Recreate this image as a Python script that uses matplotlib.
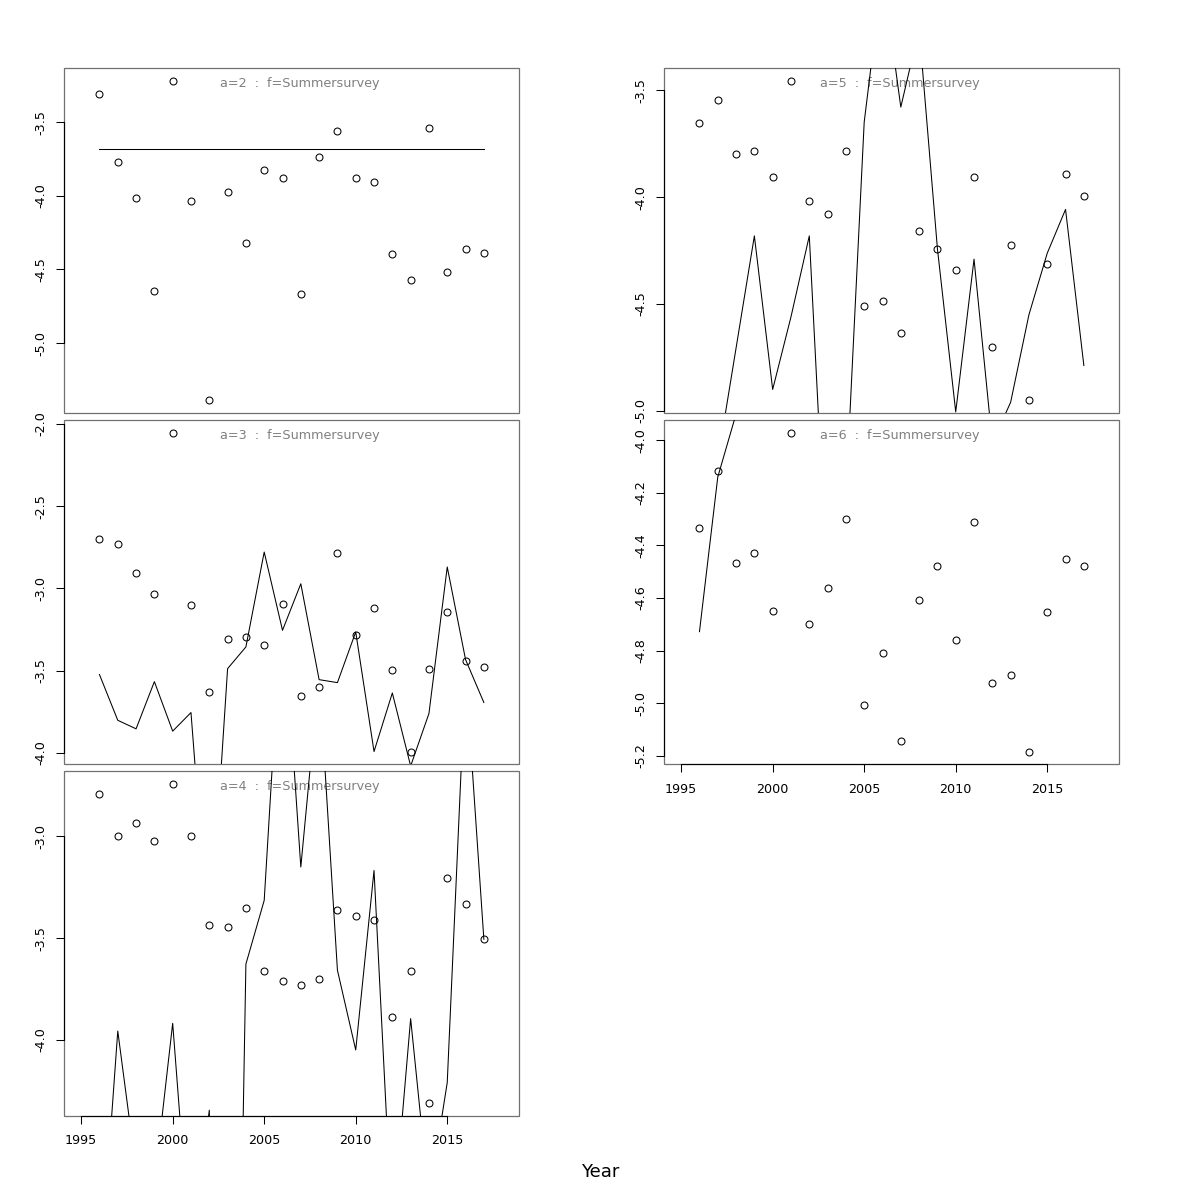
import matplotlib
matplotlib.use("Agg")
import matplotlib.pyplot as plt
import numpy as np
from matplotlib.patches import Rectangle
from matplotlib.ticker import FormatStrFormatter

plt.rcParams['font.family'] = ['DejaVu Sans']
plt.rcParams['axes.unicode_minus'] = False

years  = list(range(1996, 2018))
fleet  = "Summersurvey"
xticks = [1995, 2000, 2005, 2010, 2015]
xrange = [1995, 2018]

# observed log catchability residual points (circles) and fitted line, per age
obs_a2 = [-3.310, -3.771, -4.019, -4.645, -3.222, -4.033, -5.386, -3.978, -4.322, -3.825, -3.877,
          -4.670, -3.735, -3.563, -3.877, -3.904, -4.398, -4.575, -3.538, -4.520, -4.360, -4.390]
fit_a2 = [-3.685, -3.685, -3.685, -3.685, -3.685, -3.685, -3.685, -3.685, -3.685, -3.685, -3.685,
          -3.685, -3.685, -3.685, -3.685, -3.685, -3.685, -3.685, -3.685, -3.685, -3.685, -3.685]

obs_a3 = [-2.702, -2.731, -2.905, -3.036, -2.053, -3.103, -3.630, -3.306, -3.294, -3.344, -3.093,
          -3.656, -3.597, -2.783, -3.281, -3.121, -3.498, -3.992, -3.492, -3.142, -3.443, -3.476]
fit_a3 = [-3.524, -3.802, -3.854, -3.567, -3.868, -3.755, -5.200, -3.488, -3.356, -2.779, -3.255,
          -2.972, -3.555, -3.573, -3.265, -3.992, -3.636, -4.080, -3.761, -2.870, -3.433, -3.694]

obs_a4 = [-2.791, -2.998, -2.935, -3.021, -2.742, -2.997, -3.435, -3.444, -3.351, -3.662, -3.711,
          -3.730, -3.701, -3.363, -3.389, -3.408, -3.887, -3.662, -4.309, -3.203, -3.333, -3.505]
fit_a4 = [-5.210, -3.956, -4.640, -4.710, -3.918, -5.090, -4.345, -8.700, -3.627, -3.314, -1.820,
          -3.150, -2.200, -3.657, -4.049, -3.167, -4.950, -3.895, -4.780, -4.209, -2.180, -3.505]

obs_a5 = [-3.651, -3.544, -3.796, -3.785, -3.906, -3.456, -4.020, -4.079, -3.782, -4.510, -4.485,
          -4.637, -4.158, -4.241, -4.340, -3.906, -4.703, -4.225, -4.949, -4.311, -3.891, -3.996]
fit_a5 = [np.nan, -5.230, -4.706, -4.181, -4.900, -4.560, -4.181, -5.860, -5.400, -3.648, -2.950,
          -3.578, -3.210, -4.241, -5.005, -4.290, -5.150, -4.960, -4.550, -4.262, -4.057, -4.788]

obs_a6 = [-4.335, -4.118, -4.468, -4.429, -4.649, -3.971, -4.699, -4.562, -4.300, -5.008, -4.809,
          -5.144, -4.606, -4.480, -4.761, -4.310, -4.922, -4.894, -5.184, -4.652, -4.451, -4.477]
# beyond 1998 the fitted line for age 6 runs off the top of the panel
fit_a6 = [-4.728, -4.140, -3.900, np.nan, np.nan, np.nan, np.nan, np.nan, np.nan, np.nan, np.nan,
          np.nan, np.nan, np.nan, np.nan, np.nan, np.nan, np.nan, np.nan, np.nan, np.nan, np.nan]

yticks_a2 = [-3.5, -4.0, -4.5, -5.0]
yticks_a3 = [-2.0, -2.5, -3.0, -3.5, -4.0]
yticks_a4 = [-3.0, -3.5, -4.0]
yticks_a5 = [-3.5, -4.0, -4.5, -5.0]
yticks_a6 = [-4.0, -4.2, -4.4, -4.6, -4.8, -5.0, -5.2]

# age, obs, fit, yticks, column, row, draw x axis
panels = [
    (2, obs_a2, fit_a2, yticks_a2, 0, 0, False),
    (3, obs_a3, fit_a3, yticks_a3, 0, 1, False),
    (4, obs_a4, fit_a4, yticks_a4, 0, 2, True),
    (5, obs_a5, fit_a5, yticks_a5, 1, 0, False),
    (6, obs_a6, fit_a6, yticks_a6, 1, 1, True),
]

col_x  = [0.0536, 0.5536]
row_y  = [0.6561, 0.3631, 0.0703]
pw, ph = 0.3789, 0.2870
fs     = 9.2

fig = plt.figure(figsize=(12, 12), dpi=100)

for age, obs, fit, yt, c, r, xax in panels:
    ax  = fig.add_axes([col_x[c], row_y[r], pw, ph])
    obs = np.array(obs)
    lo, hi = np.nanmin(obs), np.nanmax(obs)
    pad = 0.04 * (hi - lo)
    ax.set_ylim(lo - pad, hi + pad)
    xp = 0.04 * (xrange[1] - xrange[0])
    ax.set_xlim(xrange[0] - xp, xrange[1] + xp)

    ax.plot(years, fit, color='black', lw=0.75, zorder=3)
    ax.plot(years, obs, 'o', mfc='none', mec='black', ms=5, mew=0.75, zorder=4)

    ax.add_patch(Rectangle((0, 0), 1, 1, transform=ax.transAxes, fill=False,
                           ec='#707070', lw=0.9, clip_on=False, zorder=1))
    ax.spines['top'].set_visible(False)
    ax.spines['right'].set_visible(False)
    ax.spines['left'].set_bounds(min(yt), max(yt))
    ax.spines['left'].set_color('black')
    ax.spines['left'].set_linewidth(0.8)

    ax.set_yticks(yt)
    ax.yaxis.set_major_formatter(FormatStrFormatter('%.1f'))
    ax.tick_params(axis='y', length=5.5, width=0.75, pad=6.5, labelsize=fs)
    for lab in ax.get_yticklabels():
        lab.set_rotation(90)
        lab.set_va('center')

    if xax:
        ax.spines['bottom'].set_bounds(xticks[0], xticks[-1])
        ax.spines['bottom'].set_color('black')
        ax.spines['bottom'].set_linewidth(0.8)
        ax.set_xticks(xticks)
        ax.tick_params(axis='x', length=5.5, width=0.75, pad=8, labelsize=fs)
    else:
        ax.spines['bottom'].set_visible(False)
        ax.set_xticks([])

    ax.text(0.518, 0.955, "a=%d  :  f=%s" % (age, fleet), transform=ax.transAxes,
            ha='center', va='center', color='gray', fontsize=fs, zorder=2)

fig.text(0.5, 0.0233, "Year", ha='center', va='center', fontsize=13)

fig.savefig("out.png", dpi=100)
